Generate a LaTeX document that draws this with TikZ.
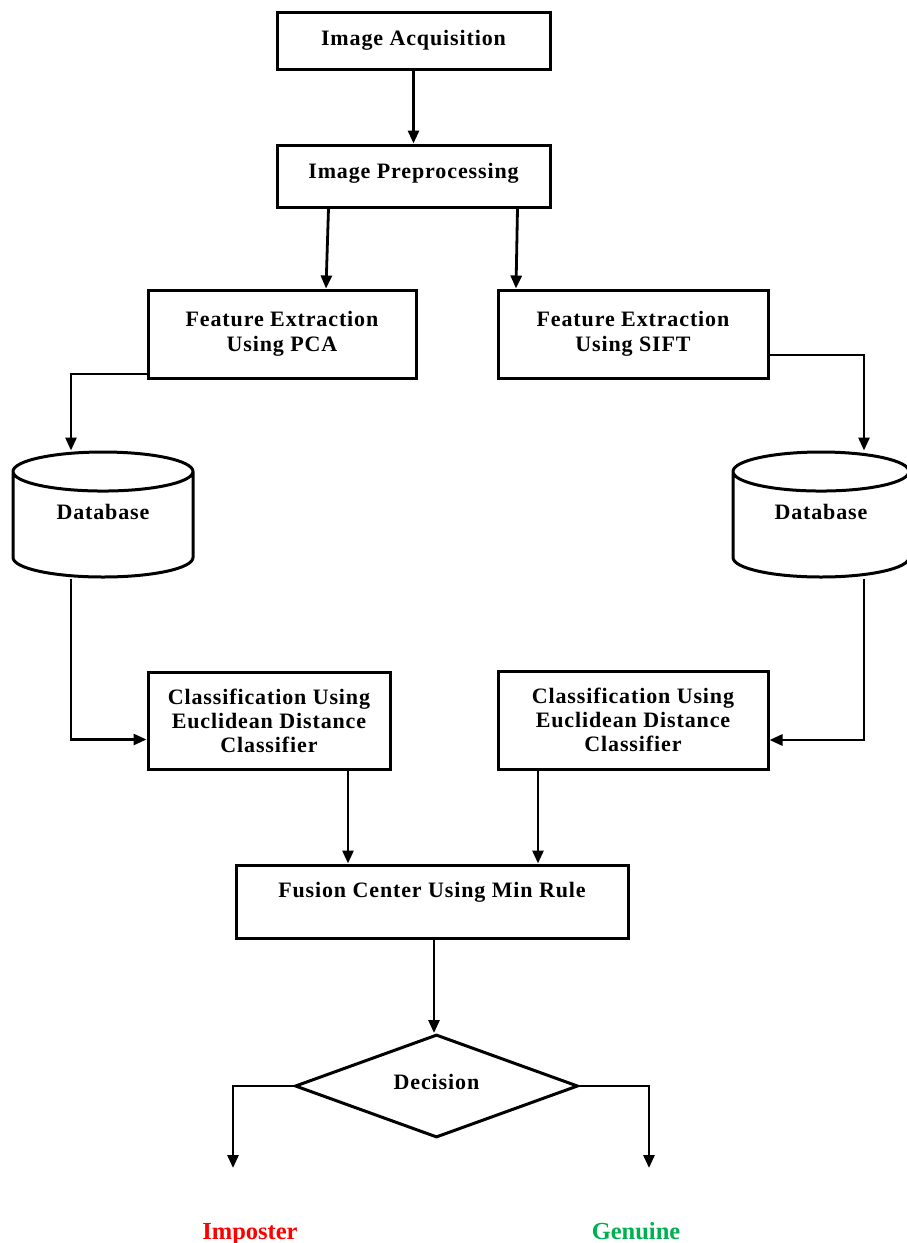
\documentclass[tikz,border=0pt]{standalone}
\usepackage{fontspec}
\setmainfont{Liberation Serif}[LetterSpace=4]
\newfontfamily\plainserif{Liberation Serif}
\usetikzlibrary{arrows.meta,shapes.geometric}
\definecolor{impred}{RGB}{255,0,0}
\definecolor{gengreen}{RGB}{0,176,80}
\begin{document}
\begin{tikzpicture}[x=1pt,y=-1pt,
    font=\fontsize{22}{25}\selectfont\bfseries,
    box/.style={draw,line width=3pt,inner sep=0pt,align=center},
    db/.style={cylinder,shape border rotate=90,draw,line width=3pt,inner sep=0pt,
      anchor=shape center,text height=14pt,text depth=25pt,
      minimum width=180pt,minimum height=125pt,aspect=0.42},
    outcome/.style={font=\plainserif\fontsize{24.5}{26}\selectfont\bfseries,anchor=base},
    link/.style={line width=2.8pt,-{Triangle[length=13pt,width=11pt]}}]
    \useasboundingbox (0,0) rectangle (906,1243);
    
    \node[box,minimum width=273pt,minimum height=57pt] (acq) at (413.5,40.5) {Image Acquisition};
    \node[box,minimum width=273pt,minimum height=62pt,text height=15pt,text depth=11pt] (pre) at (413.5,176) {Image Preprocessing};
    \node[box,minimum width=268pt,minimum height=88pt] (fpca) at (282,334) {Feature Extraction\\Using PCA};
    \node[box,minimum width=270pt,minimum height=88pt] (fsift) at (633,334) {Feature Extraction\\Using SIFT};
    \node[db] (dbl) at (103,514.5) {Database};
    \node[db,minimum width=176pt] (dbr) at (821,514.5) {Database};
    \node[box,minimum width=242pt,minimum height=97pt,font=\fontsize{22}{24}\selectfont\bfseries] (cl) at (269,720.5) {Classification Using\\Euclidean Distance\\Classifier};
    \node[box,minimum width=270pt,minimum height=98pt,font=\fontsize{22}{24}\selectfont\bfseries] (cr) at (633,720) {Classification Using\\Euclidean Distance\\Classifier};
    \node[box,minimum width=392pt,minimum height=73pt,text height=15pt,text depth=23pt] (fus) at (432,901.5) {Fusion Center Using Min Rule};
    \node[diamond,draw,line width=3pt,inner sep=0pt,aspect=2.75,text height=15pt,text depth=8.5pt,
      minimum width=283pt,minimum height=103pt] (dec) at (436.5,1086) {Decision};
    \coordinate (impend) at (233,1168);
    \coordinate (genend) at (649,1168);
    \node[outcome,text=impred] (imp) at (250,1239) {Imposter};
    \node[outcome,text=gengreen] (gen) at (636,1239) {Genuine};
    
    \draw[link] (acq.south) -- (pre.north);
    \draw[link] ([xshift=-85pt]pre.south) -- ([xshift=44pt]fpca.north);
    \draw[link] ([xshift=104pt]pre.south) -- ([xshift=-117pt]fsift.north);
    \draw[link] ([yshift=-40pt]fpca.west) -| ([xshift=-32pt]dbl.north);
    \draw[link] ([yshift=-21pt]fsift.east) -| ([xshift=43pt]dbr.north);
    \draw[link] ([xshift=-32pt]dbl.south) |- ([yshift=-19pt]cl.west);
    \draw[link] ([xshift=43pt]dbr.south) |- ([yshift=-20pt]cr.east);
    \draw[link] ([xshift=79pt]cl.south) -- ([xshift=-84pt]fus.north);
    \draw[link] ([xshift=-95pt]cr.south) -- ([xshift=106pt]fus.north);
    \draw[link] ([xshift=2pt]fus.south) -- ([xshift=-2.5pt]dec.north);
    \draw[link] (dec.west) -| (impend);
    \draw[link] (dec.east) -| (genend);
  \end{tikzpicture}
\end{document}
